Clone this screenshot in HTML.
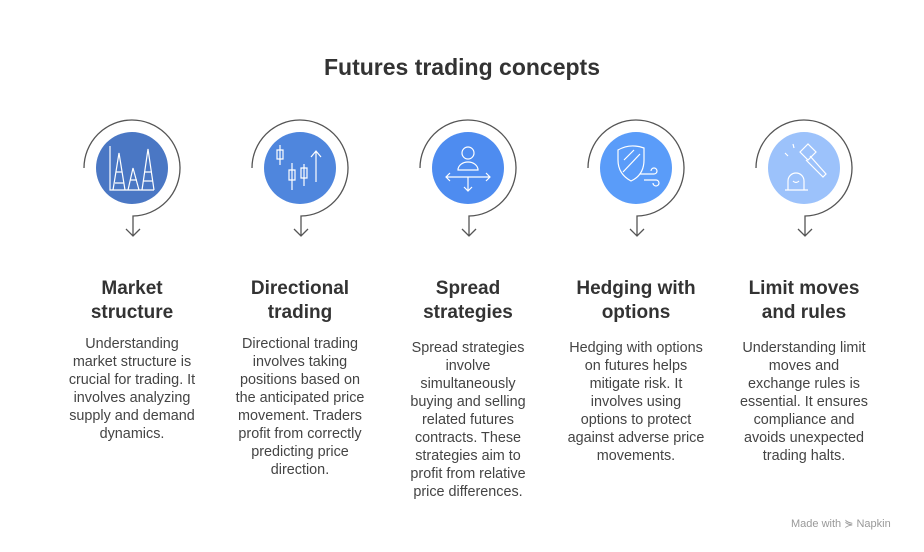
<!DOCTYPE html>
<html><head><meta charset="utf-8"><style>
body{margin:0;width:924px;height:552px;background:#fff;font-family:"Liberation Sans",sans-serif;position:relative;overflow:hidden}
.t{position:absolute;top:54px;left:0;width:924px;text-align:center;font-size:23px;font-weight:bold;color:#333}
.h{position:absolute;top:277px;width:160px;text-align:center;font-size:19px;font-weight:bold;color:#333;line-height:24px}
.b{position:absolute;width:160px;text-align:center;font-size:14.4px;color:#444;line-height:18px;white-space:nowrap}
.m{position:absolute;left:791px;top:517px;font-size:11px;color:#999}
</style></head><body>
<div class="t">Futures trading concepts</div>
<svg width="924" height="552" style="position:absolute;left:0;top:0" fill="none">
<g stroke="#555" stroke-width="1.3">
<path d="M84 168 A48 48 0 1 1 133 216 L133 236 M126 229 L133 236 L140 229"/>
<path d="M252 168 A48 48 0 1 1 301 216 L301 236 M294 229 L301 236 L308 229"/>
<path d="M420 168 A48 48 0 1 1 469 216 L469 236 M462 229 L469 236 L476 229"/>
<path d="M588 168 A48 48 0 1 1 637 216 L637 236 M630 229 L637 236 L644 229"/>
<path d="M756 168 A48 48 0 1 1 805 216 L805 236 M798 229 L805 236 L812 229"/>
</g>
<circle cx="132" cy="168" r="36" fill="#4a77c4"/>
<circle cx="300" cy="168" r="36" fill="#4f86dd"/>
<circle cx="468" cy="168" r="36" fill="#4e8cf0"/>
<circle cx="636" cy="168" r="36" fill="#5a9cf9"/>
<circle cx="804" cy="168" r="36" fill="#9cc2fb"/>
<g stroke="#fff" stroke-width="1.2">
<path d="M110 146 V190 H154 M113 190 L119 153 L125 190 M128 190 L133 168 L139 190 M142 190 L148 149 L154 190 M116 172 H122 M115 183 H124 M130 180 H137 M144 172 H152 M143 181 H153"/>
<path d="M280 145 V165 M277 150 h6 v9 h-6 z M292 163 V190 M289 170 h6 v10 h-6z M304 164 V186 M301 168 h6 v10 h-6z M316 182 V152 M311 157 L316 151 L321 157"/>
<circle cx="468" cy="153" r="6"/><path d="M458 170 a10 8 0 0 1 20 0 z M446 177 H490 M450 173 L446 177 L450 181 M486 173 L490 177 L486 181 M468 177 V191 M464 187 L468 191 L472 187"/>
<path d="M618 150 Q630 143 644 148 V160 Q644 175 631 181 Q618 174 618 160 Z M623 172 L640 154 M624 160 L634 150 M640 174 H654 a3 3 0 1 0 -3 -3 M644 180 H656 a3 3 0 1 1 -3 3"/>
<path d="M785 190 H808 M788 190 V181 a8 8 0 0 1 16 0 V190 M793 181 q3 3 6 0 M800 152 l8 -8 l8 8 l-8 8 z M810 156 L826 174 l-3 3 L806 160 M788 156 l-3 -3 M794 148 l-1 -4"/>
</g>
</svg>
<div class="h" style="left:52px">Market<br>structure</div>
<div class="h" style="left:220px">Directional<br>trading</div>
<div class="h" style="left:388px">Spread<br>strategies</div>
<div class="h" style="left:556px">Hedging with<br>options</div>
<div class="h" style="left:724px">Limit moves<br>and rules</div>
<div class="b" style="left:52px;top:335px">Understanding<br>market structure is<br>crucial for trading. It<br>involves analyzing<br>supply and demand<br>dynamics.</div>
<div class="b" style="left:220px;top:335px">Directional trading<br>involves taking<br>positions based on<br>the anticipated price<br>movement. Traders<br>profit from correctly<br>predicting price<br>direction.</div>
<div class="b" style="left:388px;top:339px">Spread strategies<br>involve<br>simultaneously<br>buying and selling<br>related futures<br>contracts. These<br>strategies aim to<br>profit from relative<br>price differences.</div>
<div class="b" style="left:556px;top:339px">Hedging with options<br>on futures helps<br>mitigate risk. It<br>involves using<br>options to protect<br>against adverse price<br>movements.</div>
<div class="b" style="left:724px;top:339px">Understanding limit<br>moves and<br>exchange rules is<br>essential. It ensures<br>compliance and<br>avoids unexpected<br>trading halts.</div>
<div class="m">Made with ⋟ Napkin</div>
</body></html>
